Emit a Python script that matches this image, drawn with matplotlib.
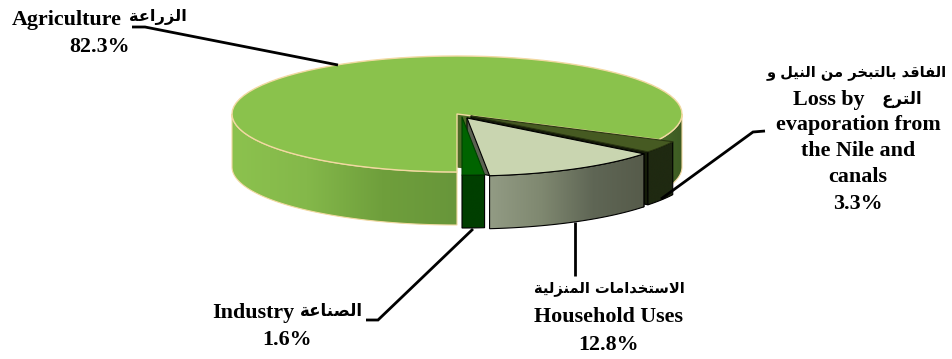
import numpy as np
import matplotlib
matplotlib.use("Agg")
import matplotlib.pyplot as plt
from matplotlib.colors import LinearSegmentedColormap
from matplotlib.patches import Polygon

# Shares of water use, percent, clockwise from 6 o'clock
categories = ["Agriculture", "Loss", "Household", "Industry"]
shares = [82.3, 3.3, 12.8, 1.6]

# Arabic labels
ar_agriculture = "الزراعة"
ar_loss_1 = "الفاقد بالتبخر من النيل و"
ar_loss_2 = "الترع"
ar_household = "الاستخدامات المنزلية"
ar_industry = "الصناعة"

# isolated, final, initial, medial
FORMS = {
    "ا": (0xFE8D, 0xFE8E, None, None), "ب": (0xFE8F, 0xFE90, 0xFE91, 0xFE92),
    "ة": (0xFE93, 0xFE94, None, None), "ت": (0xFE95, 0xFE96, 0xFE97, 0xFE98),
    "خ": (0xFEA5, 0xFEA6, 0xFEA7, 0xFEA8), "د": (0xFEA9, 0xFEAA, None, None),
    "ر": (0xFEAD, 0xFEAE, None, None), "ز": (0xFEAF, 0xFEB0, None, None),
    "س": (0xFEB1, 0xFEB2, 0xFEB3, 0xFEB4), "ص": (0xFEB9, 0xFEBA, 0xFEBB, 0xFEBC),
    "ع": (0xFEC9, 0xFECA, 0xFECB, 0xFECC), "ف": (0xFED1, 0xFED2, 0xFED3, 0xFED4),
    "ق": (0xFED5, 0xFED6, 0xFED7, 0xFED8), "ل": (0xFEDD, 0xFEDE, 0xFEDF, 0xFEE0),
    "م": (0xFEE1, 0xFEE2, 0xFEE3, 0xFEE4), "ن": (0xFEE5, 0xFEE6, 0xFEE7, 0xFEE8),
    "و": (0xFEED, 0xFEEE, None, None), "ي": (0xFEF1, 0xFEF2, 0xFEF3, 0xFEF4),
}


def shape(text):
    # matplotlib has no Arabic shaping, so pick the joined forms by hand
    out = []
    i = 0
    joined = False
    while i < len(text):
        c = text[i]
        if c not in FORMS:
            out.append(c)
            joined = False
            i += 1
            continue
        if c == "ل" and i + 1 < len(text) and text[i + 1] == "ا":
            out.append(chr(0xFEFC if joined else 0xFEFB))
            joined = False
            i += 2
            continue
        nxt = text[i + 1] if i + 1 < len(text) else " "
        can_join = FORMS[c][2] is not None and nxt in FORMS
        if joined and can_join:
            out.append(chr(FORMS[c][3]))
        elif joined:
            out.append(chr(FORMS[c][1]))
        elif can_join:
            out.append(chr(FORMS[c][2]))
        else:
            out.append(chr(FORMS[c][0]))
        joined = can_join
        i += 1
    return "".join(reversed(out))


# Pie geometry in image pixels
cx, cy = 457, 114
rx, ry = 225, 58
depth = 53

explode = {"Agriculture": (0, 0), "Loss": (14, 2), "Household": (10, 4), "Industry": (5, 3)}

fig = plt.figure(figsize=(9.52, 3.59), dpi=100)
ax = fig.add_axes([0, 0, 1, 1])

# painter's order: every new shape goes on top of the last one
layer = [1]


def next_z():
    layer[0] += 1
    return layer[0]


def point(angle, off, drop=0):
    t = np.radians(angle)
    return cx + off[0] + rx * np.cos(t), cy + off[1] + drop - ry * np.sin(t)


def arc(a0, a1, off, drop=0):
    x, y = point(np.linspace(a0, a1, 80), off, drop)
    return np.column_stack([x, y])


def top_face(a0, a1, off, color, edge, lw=0.8):
    apex = [[cx + off[0], cy + off[1]]]
    pts = np.vstack([apex, arc(a0, a1, off)])
    ax.add_patch(Polygon(pts, closed=True, fc=color, ec=edge, lw=lw, joinstyle="round", zorder=next_z()))


def outer_wall(a0, a1, off):
    return np.vstack([arc(a0, a1, off), arc(a1, a0, off, depth)])


def radial_wall(angle, off, color, edge, lw=0.8):
    px, py = point(angle, off)
    ox, oy = cx + off[0], cy + off[1]
    pts = [[ox, oy], [px, py], [px, py + depth], [ox, oy + depth]]
    ax.add_patch(Polygon(pts, closed=True, fc=color, ec=edge, lw=lw, zorder=next_z()))


def gradient_wall(pts, colors, edge, lw=0.8):
    # side wall with a left to right shading, clipped to its outline
    cmap = LinearSegmentedColormap.from_list("wall", colors)
    z = next_z()
    patch = Polygon(pts, closed=True, fc="none", ec=edge, lw=lw, zorder=z + 0.5)
    ax.add_patch(patch)
    grad = np.linspace(0, 1, 256).reshape(1, -1)
    ext = [pts[:, 0].min(), pts[:, 0].max(), pts[:, 1].max(), pts[:, 1].min()]
    im = ax.imshow(grad, cmap=cmap, extent=ext, aspect="auto", zorder=z)
    im.set_clip_path(patch)


# slice angles, clockwise from 270 degrees
edges = 270 - np.cumsum([0] + shares) * 3.6
angles = {name: (edges[i], edges[i + 1]) for i, name in enumerate(categories)}

cream = "#f2d9a2"

# Agriculture
a0, a1 = angles["Agriculture"]
off = explode["Agriculture"]
radial_wall(a1, off, "#4b6a26", "#4b6a26")
gradient_wall(outer_wall(0, a1, off), ["#48692a", "#3c5a22"], cream)
gradient_wall(outer_wall(180, a0, off), ["#8cc24e", "#84b84a", "#6f9f3c", "#68963a"], cream)
top_face(a0, a1, off, "#8ac24c", cream, 1.0)

# Loss
a0, a1 = angles["Loss"]
off = explode["Loss"]
radial_wall(a1, off, "#141b08", "black")
gradient_wall(outer_wall(a0, a1, off), ["#1f2911", "#1f2911"], "black")
top_face(a0, a1, off, "#465a22", "#2a3612")

# Household
a0, a1 = angles["Household"]
off = explode["Household"]
radial_wall(a0, off, "#5c6152", "black")
gradient_wall(outer_wall(a1, a0, off), ["#929b84", "#7f8870", "#5f6655", "#565b4a"], "black")
top_face(a0, a1, off, "#c9d5b0", "black")

# Industry
a0, a1 = angles["Industry"]
off = explode["Industry"]
gradient_wall(outer_wall(a1, a0, off), ["#003f00", "#003f00"], "black")
top_face(a0, a1, off, "#006400", "#004000")

# Leader lines
leaders = [
    ([132, 145, 338], [27, 27, 65]),
    ([661, 753, 765], [199, 132, 131]),
    ([575, 575], [222, 276]),
    ([473, 378, 366], [229, 320, 320]),
]
for xs, ys in leaders:
    ax.plot(xs, ys, color="black", lw=2.0, solid_joinstyle="miter", solid_capstyle="butt", zorder=next_z())

# Labels, one line at a time
en_font = "Liberation Serif"
ar_font = "DejaVu Sans"


def en(x, y, s, ha="center"):
    ax.text(x, y, s, family=en_font, weight="bold", fontsize=15.8, ha=ha, va="center", color="black", zorder=50)


def ar(x, y, s, size=10.5, ha="center"):
    ax.text(x, y, shape(s), family=ar_font, weight="bold", fontsize=size, ha=ha, va="center", color="black", zorder=50)


en(12, 20, "Agriculture", ha="left")
ar(158, 17, ar_agriculture, size=11.7)
en(100, 47, "82.3%")

ar(857, 73, ar_loss_1)
en(793, 100, "Loss by", ha="left")
ar(902, 99, ar_loss_2, size=12)
en(858, 125, "evaporation from")
en(858, 151, "the Nile and")
en(858, 177, "canals")
en(858, 204, "3.3%")

ar(609, 288, ar_household)
en(609, 317, "Household Uses")
en(609, 345, "12.8%")

en(212, 313, "Industry", ha="left")
ar(331, 311, ar_industry, size=12)
en(287, 340, "1.6%")

ax.set_xlim(0, 952)
ax.set_ylim(359, 0)
ax.axis("off")

fig.savefig("out.png", dpi=100)
